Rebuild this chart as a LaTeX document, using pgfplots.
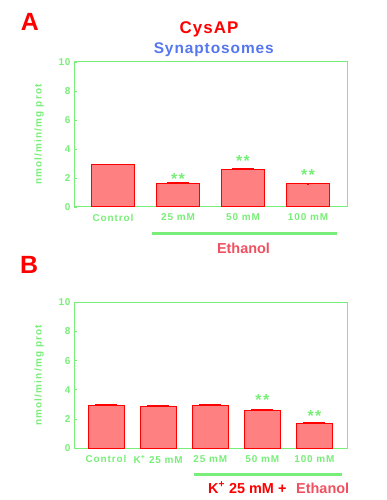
\documentclass[border=0pt]{standalone}
\usepackage{fontspec}
\setmainfont{Liberation Sans}
\newfontfamily\spaced[LetterSpace=9]{Liberation Sans}
\newfontfamily\spacedy[LetterSpace=12]{Liberation Sans}
\newfontfamily\spacedt[LetterSpace=6]{Liberation Sans}
\usepackage{pgfplots}
\pgfplotsset{compat=1.18}
\definecolor{lg}{RGB}{120,238,120}
\definecolor{barfill}{RGB}{255,128,128}
\definecolor{ethred}{RGB}{240,80,96}
\definecolor{synblue}{RGB}{85,119,238}
\pgfplotsset{panel/.style={
  scale only axis, width=273bp, anchor=south west,
  axis line style={lg, line width=1bp},
  ymin=0, ymax=10, ytick={0,2,...,10},
  xtick=data,
  major tick length=2.5bp,
  tick style={lg, line width=0.8bp},
  xtick style={draw=none},
  ytick pos=left, tick align=inside,
  ticklabel style={font=\spaced\bfseries\fontsize{10}{10}\selectfont, text=lg},
  xticklabel style={yshift=-1bp},
  ylabel={nmol/min/mg prot},
  ylabel style={font=\spacedy\bfseries\fontsize{10}{12}\selectfont, text=lg,
    at={(axis description cs:-0.128,0.5)}, anchor=center},
  ybar,
  /pgf/number format/assume math mode=true,
  clip=false,
  bars/.style={fill=barfill, draw=red, line width=1bp,
    error bars/.cd, y dir=plus, y explicit,
    error bar style={red, line width=1.2bp},
    error mark options={red, rotate=90, mark size=11bp, line width=1.4bp}},
}}
\newcommand{\stars}[2]{\node[text=lg, anchor=base, font=\spaced\bfseries\fontsize{16}{16}\selectfont, yshift=-9bp] at (axis cs:#1,#2) {**};}
\begin{document}
\begin{tikzpicture}
\path[use as bounding box] (0,0) rectangle (387bp,500bp);
% Panel A
\node[anchor=base west, text=red, font=\bfseries\fontsize{25}{25}\selectfont, inner sep=0] at (20.7bp,469.3bp) {A};
\node[anchor=base, text=red, font=\spacedt\bfseries\fontsize{17}{17}\selectfont, inner sep=0] at (209bp,466bp) {CysAP};
\node[anchor=base, text=synblue, font=\spacedt\bfseries\fontsize{15.5}{16}\selectfont, inner sep=0] at (213.8bp,446.7bp) {Synaptosomes};
\begin{axis}[panel, at={(74bp,293bp)}, height=145bp, xmin=-0.6, xmax=3.6, bar width=0.66,
  xticklabels={Control,25 mM,50 mM,100 mM}]
\addplot[bars] coordinates {(0,2.9) +- (0,0.05) (1,1.6) +- (0,0.05) (2,2.6) +- (0,0.06) (3,1.6) +- (0,0.02)};
\stars{1}{2.14}
\stars{2}{3.43}
\stars{3}{2.43}
\end{axis}
\draw[lg, line width=3bp] (152bp,266.2bp) -- (337bp,266.2bp);
\node[anchor=base, text=ethred, font=\bfseries\fontsize{14.5}{15}\selectfont, inner sep=0] at (243.5bp,246bp) {Ethanol};
% Panel B
\node[anchor=base west, text=red, font=\bfseries\fontsize{25}{25}\selectfont, inner sep=0] at (20bp,226bp) {B};
\begin{axis}[panel, at={(74bp,51.7bp)}, height=146bp, xmin=-0.615, xmax=4.625, bar width=0.69,
  xticklabels={Control,K\textsuperscript{+} 25 mM,25 mM,50 mM,100 mM}]
\addplot[bars] coordinates {(0,2.92) +- (0,0.04) (1,2.88) +- (0,0.04) (2,2.92) +- (0,0.05) (3,2.62) +- (0,0.02) (4,1.71) +- (0,0.02)};
\stars{3}{3.53}
\stars{4}{2.47}
\end{axis}
\draw[lg, line width=3bp] (194bp,25.3bp) -- (341.7bp,25.3bp);
\node[anchor=base west, text=red, font=\bfseries\fontsize{14.5}{15}\selectfont, inner sep=0] at (208bp,7bp) {K\textsuperscript{+} 25 mM +};
\node[anchor=base west, text=ethred, font=\bfseries\fontsize{14.5}{15}\selectfont, inner sep=0] at (296bp,7bp) {Ethanol};
\end{tikzpicture}
\end{document}
